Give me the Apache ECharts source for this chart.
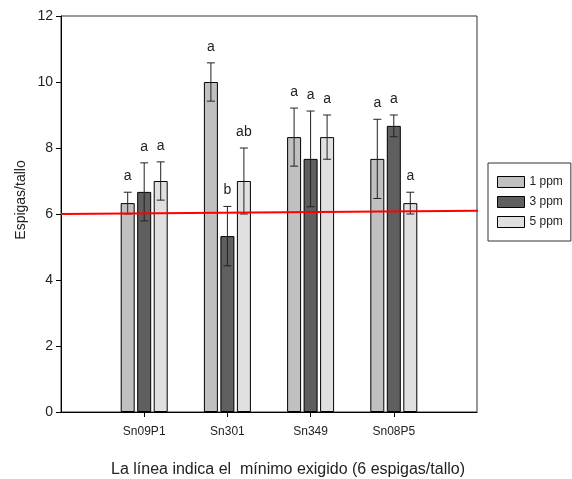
<!DOCTYPE html>
<html><head><meta charset="utf-8">
<script src="https://cdn.jsdelivr.net/npm/echarts@6/dist/echarts.min.js"></script>
<style>html,body{margin:0;padding:0;background:#fff}#c{width:572px;height:479px}</style>
</head><body><div id="c"></div>
<script>
const categories = ['Sn09P1', 'Sn301', 'Sn349', 'Sn08P5'];
const seriesNames = ['1 ppm', '3 ppm', '5 ppm'];
const means1 = [6.33, 10.0, 8.33, 7.67];
const means3 = [6.67, 5.33, 7.67, 8.67];
const means5 = [7.0, 7.0, 8.33, 6.33];
const err1 = [0.33, 0.58, 0.88, 1.2];
const err3 = [0.88, 0.9, 1.45, 0.33];
const err5 = [0.58, 1.0, 0.67, 0.33];
const letters1 = ['a', 'a', 'a', 'a'];
const letters3 = ['a', 'b', 'a', 'a'];
const letters5 = ['a', 'ab', 'a', 'a'];
const minimumLine = [[0, 6.0], [5.1, 6.1]];
const xTitle = 'La línea indica el  mínimo exigido (6 espigas/tallo)';
const yTitle = 'Espigas/tallo';

const colors = ['#c0c0c0', '#5f5f5f', '#e0e0e0'];
const BAR_W = 14, GAP = 2.5;
const SANS = "'Liberation Sans', Arial, sans-serif";

const means = [means1, means3, means5];
const errs = [err1, err3, err5];
const letters = [letters1, letters3, letters5];
const axisCats = [''].concat(categories, ['']);

function errRenderer(k) {
  const offset = (k - 1) * (BAR_W + GAP);
  return function (params, api) {
    const x = api.value(0), lo = api.value(1), hi = api.value(2);
    const pLo = api.coord([x, lo]);
    const pHi = api.coord([x, hi]);
    const cx = pLo[0] + offset;
    const cap = 4;
    const st = { stroke: '#222', lineWidth: 1 };
    return {
      type: 'group',
      children: [
        { type: 'line', shape: { x1: cx, y1: pLo[1], x2: cx, y2: pHi[1] }, style: st },
        { type: 'line', shape: { x1: cx - cap, y1: pLo[1], x2: cx + cap, y2: pLo[1] }, style: st },
        { type: 'line', shape: { x1: cx - cap, y1: pHi[1], x2: cx + cap, y2: pHi[1] }, style: st },
        { type: 'text', x: cx, y: pHi[1] - 9, style: {
            text: letters[k][params.dataIndex], fill: '#222', font: '14px ' + SANS,
            textAlign: 'center', textVerticalAlign: 'bottom' } }
      ]
    };
  };
}

const series = [];
for (let k = 0; k < 3; k++) {
  series.push({
    name: seriesNames[k], type: 'bar', barWidth: BAR_W, barGap: (GAP / BAR_W * 100) + '%',
    data: ['-'].concat(means[k], ['-']),
    itemStyle: { color: colors[k], borderColor: '#000', borderWidth: 1 },
    silent: true, animation: false
  });
}
for (let k = 0; k < 3; k++) {
  series.push({
    type: 'custom', renderItem: errRenderer(k), z: 5, silent: true, animation: false,
    data: means[k].map((m, i) => [i + 1, m - errs[k][i], m + errs[k][i]])
  });
}
series.push({
  type: 'line', xAxisIndex: 1, data: minimumLine, symbol: 'none', clip: false, z: 10,
  lineStyle: { color: '#ff0000', width: 2 }, silent: true, animation: false
});

const chart = echarts.init(document.getElementById('c'), null, { renderer: 'canvas' });
chart.setOption({
  animation: false,
  backgroundColor: '#fff',
  grid: { left: 61, right: 95, top: 16, bottom: 67, show: true, borderColor: '#333', borderWidth: 1 },
  legend: {
    data: seriesNames, orient: 'vertical', left: 488, top: 163,
    itemWidth: 27, itemHeight: 11, itemGap: 8, icon: 'rect',
    padding: [13, 8, 13, 9], borderColor: '#333', borderWidth: 1,
    itemStyle: { borderColor: '#000', borderWidth: 1 },
    textStyle: { fontSize: 12, fontFamily: SANS, color: '#222' }
  },
  xAxis: [{
    type: 'category', data: axisCats, boundaryGap: false,
    axisLine: { lineStyle: { color: '#000', width: 1 } },
    axisTick: { length: 5, lineStyle: { color: '#000' }, interval: (i) => i >= 1 && i <= 4 },
    axisLabel: { interval: 0, margin: 14, fontSize: 12, fontFamily: SANS, color: '#222' },
    splitLine: { show: false }
  }, {
    type: 'value', min: 0, max: 5, show: false
  }],
  yAxis: {
    type: 'value', min: 0, max: 12, interval: 2,
    axisLine: { show: true, lineStyle: { color: '#000', width: 1 } },
    axisTick: { show: true, length: 5, lineStyle: { color: '#000' } },
    axisLabel: { margin: 8, fontSize: 14, fontFamily: SANS, color: '#222' },
    splitLine: { show: false }
  },
  graphic: [{
    type: 'text', x: 21, y: 200, rotation: Math.PI / 2,
    style: { text: yTitle, font: '14px ' + SANS, fill: '#222', textAlign: 'center', textVerticalAlign: 'middle' }
  }, {
    type: 'text', left: 111, top: 462,
    style: { text: xTitle, font: '16px ' + SANS, fill: '#222' }
  }],
  series: series
});
</script>
</body></html>
